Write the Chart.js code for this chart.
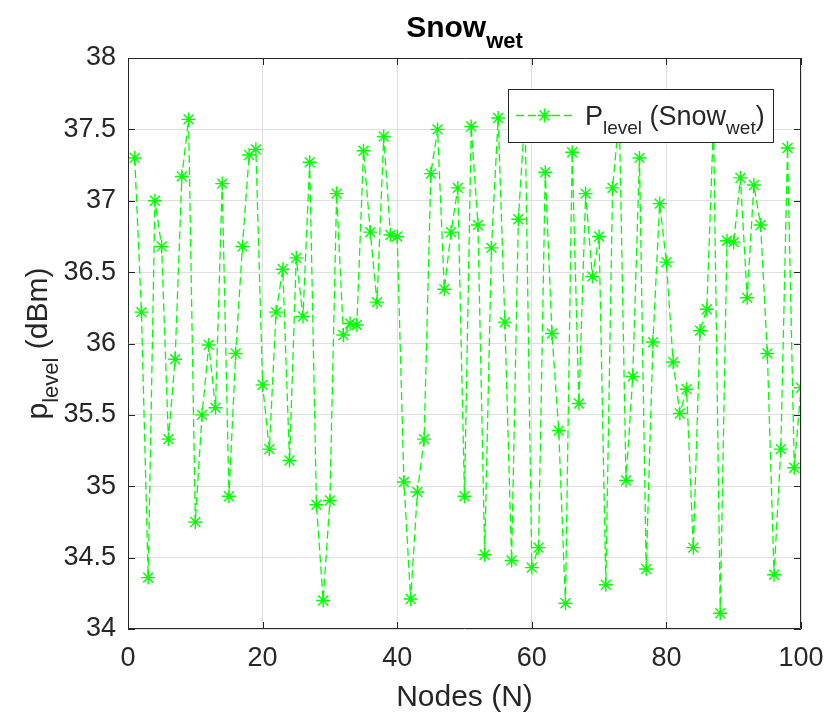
<!DOCTYPE html>
<html>
<head>
<meta charset="utf-8">
<title>Snow wet</title>
<script src="https://cdn.jsdelivr.net/npm/chart.js@4.4.1/dist/chart.umd.min.js"></script>
<style>
  html, body { margin: 0; padding: 0; background: #fff; }
</style>
</head>
<body>
<canvas id="plot" width="825" height="725"></canvas>
<script>
// ---------- Data ----------
const nodes = [
  1, 2, 3, 4, 5, 6, 7, 8, 9, 10, 11, 12, 13, 14, 15, 16, 17, 18, 19, 20,
  21, 22, 23, 24, 25, 26, 27, 28, 29, 30, 31, 32, 33, 34, 35, 36, 37, 38, 39, 40,
  41, 42, 43, 44, 45, 46, 47, 48, 49, 50, 51, 52, 53, 54, 55, 56, 57, 58, 59, 60,
  61, 62, 63, 64, 65, 66, 67, 68, 69, 70, 71, 72, 73, 74, 75, 76, 77, 78, 79, 80,
  81, 82, 83, 84, 85, 86, 87, 88, 89, 90, 91, 92, 93, 94, 95, 96, 97, 98, 99, 100,
];

// received power level per node, dBm
const pLevel = [
  37.30, 36.22, 34.36, 37.00, 36.68, 35.33, 35.89, 37.17, 37.57, 34.75,
  35.50, 35.99, 35.55, 37.12, 34.93, 35.93, 36.68, 37.32, 37.36, 35.71,
  35.26, 36.22, 36.52, 35.18, 36.60, 36.19, 37.27, 34.87, 34.20, 34.90,
  37.05, 36.06, 36.14, 36.13, 37.35, 36.78, 36.29, 37.45, 36.76, 36.75,
  35.03, 34.21, 34.96, 35.33, 37.19, 37.50, 36.38, 36.78, 37.09, 34.93,
  37.52, 36.83, 34.52, 36.67, 37.58, 36.15, 34.48, 36.87, 37.62, 34.43,
  34.57, 37.20, 36.07, 35.39, 34.18, 37.34, 35.58, 37.05, 36.47, 36.75,
  34.31, 37.09, 37.60, 35.04, 35.77, 37.30, 34.42, 36.01, 36.98, 36.57,
  35.87, 35.51, 35.68, 34.57, 36.09, 36.24, 37.55, 34.11, 36.72, 36.71,
  37.16, 36.32, 37.11, 36.83, 35.93, 34.38, 35.26, 37.37, 35.13, 35.69,
];

const xTicks = [0, 20, 40, 60, 80, 100];
const yTicks = [34, 34.5, 35, 35.5, 36, 36.5, 37, 37.5, 38];

// ---------- Style ----------
const FONT = "'Liberation Sans', Arial, Helvetica, sans-serif";
const INK = "#262626";
const GRID = "#dfdfdf";
const GREEN = "#00ff00";
const TICK_SIZE = 27;
const LABEL_SIZE = 30;
const TITLE_SIZE = 30;
const LEGEND_SIZE = 27;

// draw a run of text pieces, some of them subscripted
function drawRuns(ctx, runs, x, y, size, weight, align) {
  const subSize = Math.round(size * 0.72);
  const widths = runs.map((r) => {
    ctx.font = `${weight} ${r.sub ? subSize : size}px ${FONT}`;
    return ctx.measureText(r.t).width;
  });
  const total = widths.reduce((a, b) => a + b, 0);
  let cx = align === "center" ? x - total / 2 : x;
  ctx.textAlign = "left";
  ctx.textBaseline = "alphabetic";
  runs.forEach((r, i) => {
    ctx.font = `${weight} ${r.sub ? subSize : size}px ${FONT}`;
    ctx.fillText(r.t, cx, r.sub ? y + size * 0.37 : y);
    cx += widths[i];
  });
  return total;
}

function runsWidth(ctx, runs, size) {
  let w = 0;
  runs.forEach((r) => {
    ctx.font = `normal ${r.sub ? Math.round(size * 0.72) : size}px ${FONT}`;
    w += ctx.measureText(r.t).width;
  });
  return w;
}

const decorations = {
  id: "decorations",
  afterDatasetsDraw(chart) {
    const { ctx, chartArea: a, scales } = chart;
    const sx = scales.x, sy = scales.y;
    ctx.save();

    // axes box with inward ticks
    ctx.strokeStyle = INK;
    ctx.lineWidth = 1;
    ctx.beginPath();
    ctx.rect(a.left + 0.5, a.top + 0.5, a.right - a.left - 1, a.bottom - a.top - 1);
    const tl = 7;
    xTicks.forEach((v) => {
      const px = Math.round(sx.getPixelForValue(v)) + 0.5;
      ctx.moveTo(px, a.bottom); ctx.lineTo(px, a.bottom - tl);
      ctx.moveTo(px, a.top); ctx.lineTo(px, a.top + tl);
    });
    yTicks.forEach((v) => {
      const py = Math.round(sy.getPixelForValue(v)) + 0.5;
      ctx.moveTo(a.left, py); ctx.lineTo(a.left + tl, py);
      ctx.moveTo(a.right, py); ctx.lineTo(a.right - tl, py);
    });
    ctx.stroke();

    // titles
    ctx.fillStyle = "#000";
    const midX = (a.left + a.right) / 2;
    drawRuns(ctx, [{ t: "Snow" }, { t: "wet", sub: true }], midX, 37, TITLE_SIZE, "bold", "center");
    ctx.fillStyle = INK;
    drawRuns(ctx, [{ t: "Nodes (N)" }], midX, 706, LABEL_SIZE, "normal", "center");

    ctx.save();
    ctx.translate(47, (a.top + a.bottom) / 2);
    ctx.rotate(-Math.PI / 2);
    drawRuns(ctx, [{ t: "p" }, { t: "level", sub: true }, { t: " (dBm)" }], 0, 0, LABEL_SIZE, "normal", "center");
    ctx.restore();

    // legend box, drawn over the data
    const ds = chart.data.datasets[0];
    const runs = [{ t: "P" }, { t: "level", sub: true }, { t: " (Snow" }, { t: "wet", sub: true }, { t: ")" }];
    const tw = runsWidth(ctx, runs, LEGEND_SIZE);
    const lw = Math.round(8 + 57 + 12 + tw + 8);
    const lh = 53;
    const right = Math.round(a.right - 28);
    const top = Math.round(a.top + 31);
    const left = right - lw;
    ctx.fillStyle = "#fff";
    ctx.fillRect(left, top, lw, lh);
    ctx.strokeStyle = INK;
    ctx.strokeRect(left + 0.5, top + 0.5, lw, lh);

    const my = top + lh / 2;
    ctx.strokeStyle = ds.borderColor;
    ctx.lineWidth = ds.borderWidth;
    ctx.setLineDash(ds.borderDash);
    ctx.beginPath();
    ctx.moveTo(left + 8, my);
    ctx.lineTo(left + 65, my);
    ctx.stroke();
    ctx.setLineDash([]);
    ctx.lineWidth = ds.pointBorderWidth;
    Chart.helpers.drawPoint(ctx, { pointStyle: "star", radius: ds.pointRadius, rotation: 0, borderWidth: ds.pointBorderWidth }, left + 36.5, my);

    ctx.fillStyle = INK;
    drawRuns(ctx, runs, left + 77, my + 9, LEGEND_SIZE, "normal", "left");
    ctx.restore();
  },
};

// ---------- Chart ----------
const ctx = document.getElementById("plot").getContext("2d");
new Chart(ctx, {
  type: "line",
  data: {
    datasets: [
      {
        label: "P_level (Snow_wet)",
        data: nodes.map((n, i) => ({ x: n, y: pLevel[i] })),
        borderColor: GREEN,
        borderWidth: 1.3,
        borderDash: [8, 4],
        pointStyle: "star",
        pointRadius: 7,
        pointBorderWidth: 1.4,
        pointBorderColor: GREEN,
        pointBackgroundColor: GREEN,
        tension: 0,
        fill: false,
      },
    ],
  },
  options: {
    responsive: false,
    animation: false,
    devicePixelRatio: 1,
    layout: { padding: { top: 58, right: 24, bottom: 0, left: 0 } },
    plugins: { legend: { display: false }, title: { display: false }, tooltip: { enabled: false } },
    scales: {
      x: {
        type: "linear",
        min: 0,
        max: 100,
        afterBuildTicks: (s) => { s.ticks = xTicks.map((v) => ({ value: v })); },
        afterFit: (s) => { s.height = 96; s.paddingLeft = 0; s.paddingRight = 0; },
        grid: { color: GRID, drawTicks: false },
        border: { display: false },
        ticks: { color: INK, font: { family: FONT, size: TICK_SIZE }, padding: 13, maxRotation: 0, callback: (v) => String(v) },
      },
      y: {
        type: "linear",
        min: 34,
        max: 38,
        afterBuildTicks: (s) => { s.ticks = yTicks.map((v) => ({ value: v })); },
        afterFit: (s) => { s.width = 128; s.paddingTop = 0; s.paddingBottom = 0; },
        grid: { color: GRID, drawTicks: false },
        border: { display: false },
        ticks: { color: INK, font: { family: FONT, size: TICK_SIZE }, padding: 12, callback: (v) => String(v) },
      },
    },
  },
  plugins: [decorations],
});
</script>
</body>
</html>
